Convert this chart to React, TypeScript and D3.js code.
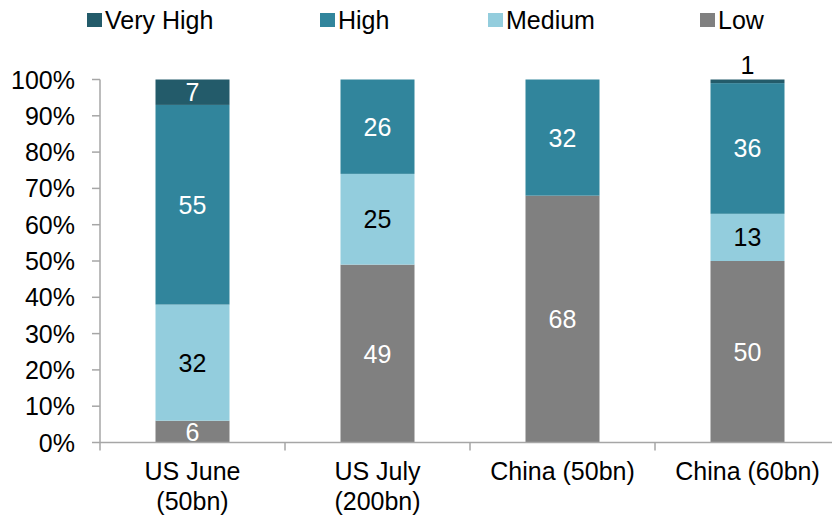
import React from "react";
import * as d3 from "d3";

const categories: string[][] = [["US June", "(50bn)"], ["US July", "(200bn)"], ["China (50bn)"], ["China (60bn)"]];
const seriesNames = ["Low", "Medium", "High", "Very High"];
const lowValues = [6, 49, 68, 50];
const mediumValues = [32, 25, 0, 13];
const highValues = [55, 26, 32, 36];
const veryHighValues = [7, 0, 0, 1];
const yTicks = [0, 10, 20, 30, 40, 50, 60, 70, 80, 90, 100];
const legendOrder = ["Very High", "High", "Medium", "Low"];

const colors: Record<string, string> = {
  "Very High": "#235b6a",
  High: "#31859c",
  Medium: "#93cddd",
  Low: "#808080",
};
const labelColors: Record<string, string> = {
  "Very High": "#ffffff",
  High: "#ffffff",
  Medium: "#000000",
  Low: "#ffffff",
};

const W = 832;
const H = 518;
const FONT = "'Liberation Sans', Arial, sans-serif";
const FS = 25;

export default function App() {
  const left = 100;
  const top = 79.5;
  const bottom = 442.5;
  const bandW = 185;
  const x = d3
    .scaleBand<number>()
    .domain(categories.map((_, i) => i))
    .range([left, left + bandW * categories.length])
    .paddingInner(0.6)
    .paddingOuter(0.3);
  const y = d3.scaleLinear().domain([0, 100]).range([bottom, top]);

  const rows = categories.map((_, i) => ({
    Low: lowValues[i],
    Medium: mediumValues[i],
    High: highValues[i],
    "Very High": veryHighValues[i],
  }));
  const stack = d3.stack<any>().keys(seriesNames)(rows);

  const legendX = [87, 320, 488, 700];
  const axisColor = "#a6a6a6";

  return (
    <svg width={W} height={H} style={{ position: "absolute", left: 0, top: 0 }} fontFamily={FONT}>
      <rect width={W} height={H} fill="#fff" />
      {legendOrder.map((name, i) => (
        <g key={name} transform={`translate(${legendX[i]},0)`}>
          <rect x={0} y={13} width={15} height={14} fill={colors[name]} />
          <text x={18} y={20} dominantBaseline="central" fontSize={FS} fill="#000">
            {name}
          </text>
        </g>
      ))}
      {stack.map((layer) => {
        const key = layer.key;
        return (
          <g key={key}>
            {layer.map((d, i) => {
              const v = d[1] - d[0];
              if (v <= 0) return null;
              const bx = x(i)!;
              const bw = x.bandwidth();
              const y0 = y(d[0]);
              const y1 = y(d[1]);
              const small = v < 3;
              return (
                <g key={i}>
                  <rect x={bx} y={y1} width={bw} height={y0 - y1} fill={colors[key]} />
                  <text
                    x={bx + bw / 2}
                    y={small ? y1 - 15 : (y0 + y1) / 2}
                    textAnchor="middle"
                    dominantBaseline="central"
                    fontSize={FS}
                    fill={small ? "#000" : labelColors[key]}
                  >
                    {v}
                  </text>
                </g>
              );
            })}
          </g>
        );
      })}
      <line x1={left} x2={left} y1={top} y2={bottom + 8} stroke={axisColor} strokeWidth={1.5} />
      {yTicks.map((t) => (
        <g key={t}>
          <line x1={left - 8} x2={left} y1={y(t)} y2={y(t)} stroke={axisColor} strokeWidth={1.5} />
          <text x={75} y={y(t)} textAnchor="end" dominantBaseline="central" fontSize={FS} fill="#000">
            {t}%
          </text>
        </g>
      ))}
      <line x1={left} x2={W} y1={bottom} y2={bottom} stroke={axisColor} strokeWidth={1.5} />
      {categories.map((_, i) => {
        const tx = left + bandW * (i + 1);
        return tx < W ? (
          <line key={i} x1={tx} x2={tx} y1={bottom} y2={bottom + 8} stroke={axisColor} strokeWidth={1.5} />
        ) : null;
      })}
      {categories.map((lines, i) => (
        <text key={i} x={x(i)! + x.bandwidth() / 2} textAnchor="middle" fontSize={FS} fill="#000">
          {lines.map((l, j) => (
            <tspan key={j} x={x(i)! + x.bandwidth() / 2} y={480 + j * 30}>
              {l}
            </tspan>
          ))}
        </text>
      ))}
    </svg>
  );
}
